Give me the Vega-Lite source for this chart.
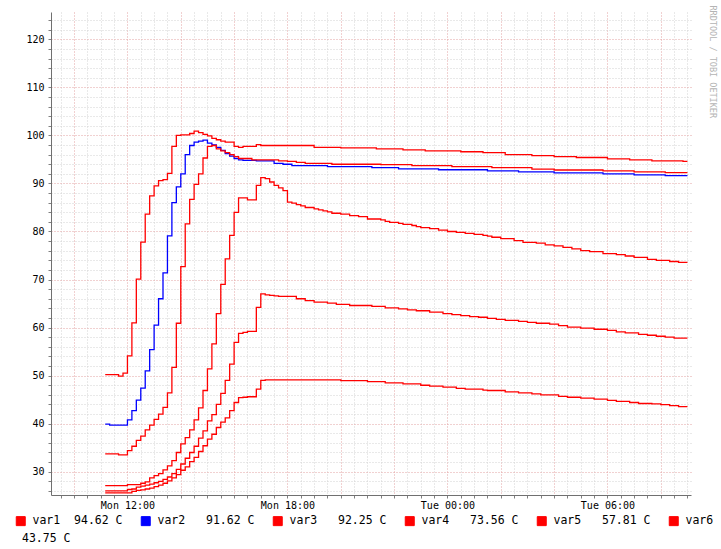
{
  "$schema": "https://vega.github.io/schema/vega-lite/v6.json",
  "width": 640,
  "height": 483,
  "autosize": {"type": "none"},
  "padding": {"left": 51, "top": 12, "right": 30, "bottom": 54},
  "background": "white",
  "config": {"view": {"stroke": null}, "font": "DejaVu Sans Mono"},
  "data": {
    "values": [
      {"s": "var1", "t": "2011-01-03T11:10:00Z", "v": 50.2},
      {"s": "var1", "t": "2011-01-03T11:40:00Z", "v": 49.9},
      {"s": "var1", "t": "2011-01-03T11:50:00Z", "v": 50.5},
      {"s": "var1", "t": "2011-01-03T12:00:00Z", "v": 54.1},
      {"s": "var1", "t": "2011-01-03T12:10:00Z", "v": 61.0},
      {"s": "var1", "t": "2011-01-03T12:20:00Z", "v": 70.1},
      {"s": "var1", "t": "2011-01-03T12:30:00Z", "v": 77.8},
      {"s": "var1", "t": "2011-01-03T12:40:00Z", "v": 83.6},
      {"s": "var1", "t": "2011-01-03T12:50:00Z", "v": 87.4},
      {"s": "var1", "t": "2011-01-03T13:00:00Z", "v": 89.5},
      {"s": "var1", "t": "2011-01-03T13:10:00Z", "v": 90.6},
      {"s": "var1", "t": "2011-01-03T13:20:00Z", "v": 90.8},
      {"s": "var1", "t": "2011-01-03T13:30:00Z", "v": 92.1},
      {"s": "var1", "t": "2011-01-03T13:40:00Z", "v": 97.7},
      {"s": "var1", "t": "2011-01-03T13:50:00Z", "v": 100.0},
      {"s": "var1", "t": "2011-01-03T14:00:00Z", "v": 100.1},
      {"s": "var1", "t": "2011-01-03T14:20:00Z", "v": 100.4},
      {"s": "var1", "t": "2011-01-03T14:30:00Z", "v": 100.9},
      {"s": "var1", "t": "2011-01-03T14:40:00Z", "v": 100.6},
      {"s": "var1", "t": "2011-01-03T14:50:00Z", "v": 100.2},
      {"s": "var1", "t": "2011-01-03T15:00:00Z", "v": 99.9},
      {"s": "var1", "t": "2011-01-03T15:10:00Z", "v": 99.4},
      {"s": "var1", "t": "2011-01-03T15:20:00Z", "v": 99.1},
      {"s": "var1", "t": "2011-01-03T15:30:00Z", "v": 98.8},
      {"s": "var1", "t": "2011-01-03T15:40:00Z", "v": 98.6},
      {"s": "var1", "t": "2011-01-03T16:00:00Z", "v": 97.7},
      {"s": "var1", "t": "2011-01-03T16:10:00Z", "v": 97.5},
      {"s": "var1", "t": "2011-01-03T16:20:00Z", "v": 97.7},
      {"s": "var1", "t": "2011-01-03T16:50:00Z", "v": 98.1},
      {"s": "var1", "t": "2011-01-03T17:00:00Z", "v": 97.9},
      {"s": "var1", "t": "2011-01-03T19:00:00Z", "v": 97.5},
      {"s": "var1", "t": "2011-01-03T20:00:00Z", "v": 97.4},
      {"s": "var1", "t": "2011-01-03T21:20:00Z", "v": 97.2},
      {"s": "var1", "t": "2011-01-03T22:20:00Z", "v": 97.0},
      {"s": "var1", "t": "2011-01-03T23:10:00Z", "v": 96.8},
      {"s": "var1", "t": "2011-01-04T00:30:00Z", "v": 96.6},
      {"s": "var1", "t": "2011-01-04T01:20:00Z", "v": 96.4},
      {"s": "var1", "t": "2011-01-04T02:10:00Z", "v": 96.0},
      {"s": "var1", "t": "2011-01-04T03:10:00Z", "v": 95.8},
      {"s": "var1", "t": "2011-01-04T04:00:00Z", "v": 95.6},
      {"s": "var1", "t": "2011-01-04T04:50:00Z", "v": 95.4},
      {"s": "var1", "t": "2011-01-04T06:00:00Z", "v": 95.1},
      {"s": "var1", "t": "2011-01-04T06:50:00Z", "v": 94.9},
      {"s": "var1", "t": "2011-01-04T07:40:00Z", "v": 94.7},
      {"s": "var1", "t": "2011-01-04T08:50:00Z", "v": 94.6},
      {"s": "var1", "t": "2011-01-04T09:00:00Z", "v": 94.6},
      {"s": "var2", "t": "2011-01-03T11:10:00Z", "v": 39.9},
      {"s": "var2", "t": "2011-01-03T11:20:00Z", "v": 39.7},
      {"s": "var2", "t": "2011-01-03T12:00:00Z", "v": 40.8},
      {"s": "var2", "t": "2011-01-03T12:10:00Z", "v": 42.7},
      {"s": "var2", "t": "2011-01-03T12:20:00Z", "v": 44.9},
      {"s": "var2", "t": "2011-01-03T12:30:00Z", "v": 47.4},
      {"s": "var2", "t": "2011-01-03T12:40:00Z", "v": 51.0},
      {"s": "var2", "t": "2011-01-03T12:50:00Z", "v": 55.4},
      {"s": "var2", "t": "2011-01-03T13:00:00Z", "v": 60.5},
      {"s": "var2", "t": "2011-01-03T13:10:00Z", "v": 66.0},
      {"s": "var2", "t": "2011-01-03T13:20:00Z", "v": 71.4},
      {"s": "var2", "t": "2011-01-03T13:30:00Z", "v": 79.1},
      {"s": "var2", "t": "2011-01-03T13:40:00Z", "v": 86.0},
      {"s": "var2", "t": "2011-01-03T13:50:00Z", "v": 89.3},
      {"s": "var2", "t": "2011-01-03T14:00:00Z", "v": 92.0},
      {"s": "var2", "t": "2011-01-03T14:10:00Z", "v": 96.0},
      {"s": "var2", "t": "2011-01-03T14:20:00Z", "v": 97.9},
      {"s": "var2", "t": "2011-01-03T14:30:00Z", "v": 98.6},
      {"s": "var2", "t": "2011-01-03T14:40:00Z", "v": 98.8},
      {"s": "var2", "t": "2011-01-03T14:50:00Z", "v": 99.0},
      {"s": "var2", "t": "2011-01-03T15:00:00Z", "v": 98.4},
      {"s": "var2", "t": "2011-01-03T15:10:00Z", "v": 98.0},
      {"s": "var2", "t": "2011-01-03T15:20:00Z", "v": 97.5},
      {"s": "var2", "t": "2011-01-03T15:30:00Z", "v": 96.9},
      {"s": "var2", "t": "2011-01-03T15:40:00Z", "v": 96.2},
      {"s": "var2", "t": "2011-01-03T15:50:00Z", "v": 95.7},
      {"s": "var2", "t": "2011-01-03T16:00:00Z", "v": 95.2},
      {"s": "var2", "t": "2011-01-03T16:10:00Z", "v": 94.9},
      {"s": "var2", "t": "2011-01-03T16:20:00Z", "v": 94.8},
      {"s": "var2", "t": "2011-01-03T16:50:00Z", "v": 94.7},
      {"s": "var2", "t": "2011-01-03T17:30:00Z", "v": 94.2},
      {"s": "var2", "t": "2011-01-03T17:50:00Z", "v": 94.0},
      {"s": "var2", "t": "2011-01-03T18:10:00Z", "v": 93.7},
      {"s": "var2", "t": "2011-01-03T19:30:00Z", "v": 93.5},
      {"s": "var2", "t": "2011-01-03T21:10:00Z", "v": 93.3},
      {"s": "var2", "t": "2011-01-03T22:10:00Z", "v": 93.05},
      {"s": "var2", "t": "2011-01-03T23:40:00Z", "v": 92.85},
      {"s": "var2", "t": "2011-01-04T01:30:00Z", "v": 92.6},
      {"s": "var2", "t": "2011-01-04T02:40:00Z", "v": 92.4},
      {"s": "var2", "t": "2011-01-04T04:00:00Z", "v": 92.2},
      {"s": "var2", "t": "2011-01-04T05:50:00Z", "v": 92.0},
      {"s": "var2", "t": "2011-01-04T07:00:00Z", "v": 91.8},
      {"s": "var2", "t": "2011-01-04T08:10:00Z", "v": 91.62},
      {"s": "var2", "t": "2011-01-04T09:00:00Z", "v": 91.62},
      {"s": "var3", "t": "2011-01-03T11:10:00Z", "v": 33.7},
      {"s": "var3", "t": "2011-01-03T11:40:00Z", "v": 33.5},
      {"s": "var3", "t": "2011-01-03T12:00:00Z", "v": 34.4},
      {"s": "var3", "t": "2011-01-03T12:10:00Z", "v": 35.3},
      {"s": "var3", "t": "2011-01-03T12:20:00Z", "v": 36.5},
      {"s": "var3", "t": "2011-01-03T12:30:00Z", "v": 37.4},
      {"s": "var3", "t": "2011-01-03T12:40:00Z", "v": 38.7},
      {"s": "var3", "t": "2011-01-03T12:50:00Z", "v": 39.7},
      {"s": "var3", "t": "2011-01-03T13:00:00Z", "v": 40.9},
      {"s": "var3", "t": "2011-01-03T13:10:00Z", "v": 42.0},
      {"s": "var3", "t": "2011-01-03T13:20:00Z", "v": 43.4},
      {"s": "var3", "t": "2011-01-03T13:30:00Z", "v": 46.4},
      {"s": "var3", "t": "2011-01-03T13:40:00Z", "v": 51.7},
      {"s": "var3", "t": "2011-01-03T13:50:00Z", "v": 60.9},
      {"s": "var3", "t": "2011-01-03T14:00:00Z", "v": 72.7},
      {"s": "var3", "t": "2011-01-03T14:10:00Z", "v": 81.6},
      {"s": "var3", "t": "2011-01-03T14:20:00Z", "v": 86.7},
      {"s": "var3", "t": "2011-01-03T14:30:00Z", "v": 89.8},
      {"s": "var3", "t": "2011-01-03T14:40:00Z", "v": 92.0},
      {"s": "var3", "t": "2011-01-03T14:50:00Z", "v": 95.3},
      {"s": "var3", "t": "2011-01-03T15:00:00Z", "v": 97.7},
      {"s": "var3", "t": "2011-01-03T15:10:00Z", "v": 97.9},
      {"s": "var3", "t": "2011-01-03T15:20:00Z", "v": 97.2},
      {"s": "var3", "t": "2011-01-03T15:30:00Z", "v": 96.8},
      {"s": "var3", "t": "2011-01-03T15:40:00Z", "v": 96.4},
      {"s": "var3", "t": "2011-01-03T15:50:00Z", "v": 96.0},
      {"s": "var3", "t": "2011-01-03T16:00:00Z", "v": 95.6},
      {"s": "var3", "t": "2011-01-03T16:10:00Z", "v": 95.2},
      {"s": "var3", "t": "2011-01-03T16:40:00Z", "v": 94.9},
      {"s": "var3", "t": "2011-01-03T17:40:00Z", "v": 94.7},
      {"s": "var3", "t": "2011-01-03T18:00:00Z", "v": 94.6},
      {"s": "var3", "t": "2011-01-03T18:20:00Z", "v": 94.4},
      {"s": "var3", "t": "2011-01-03T18:40:00Z", "v": 94.2},
      {"s": "var3", "t": "2011-01-03T19:40:00Z", "v": 94.0},
      {"s": "var3", "t": "2011-01-03T21:30:00Z", "v": 93.9},
      {"s": "var3", "t": "2011-01-03T22:40:00Z", "v": 93.7},
      {"s": "var3", "t": "2011-01-04T00:10:00Z", "v": 93.5},
      {"s": "var3", "t": "2011-01-04T01:40:00Z", "v": 93.3},
      {"s": "var3", "t": "2011-01-04T03:10:00Z", "v": 93.0},
      {"s": "var3", "t": "2011-01-04T04:00:00Z", "v": 92.8},
      {"s": "var3", "t": "2011-01-04T05:50:00Z", "v": 92.6},
      {"s": "var3", "t": "2011-01-04T07:00:00Z", "v": 92.4},
      {"s": "var3", "t": "2011-01-04T08:10:00Z", "v": 92.25},
      {"s": "var3", "t": "2011-01-04T09:00:00Z", "v": 92.25},
      {"s": "var4", "t": "2011-01-03T11:10:00Z", "v": 27.1},
      {"s": "var4", "t": "2011-01-03T12:00:00Z", "v": 27.3},
      {"s": "var4", "t": "2011-01-03T12:30:00Z", "v": 27.6},
      {"s": "var4", "t": "2011-01-03T12:40:00Z", "v": 27.9},
      {"s": "var4", "t": "2011-01-03T12:50:00Z", "v": 28.7},
      {"s": "var4", "t": "2011-01-03T13:00:00Z", "v": 29.2},
      {"s": "var4", "t": "2011-01-03T13:10:00Z", "v": 29.6},
      {"s": "var4", "t": "2011-01-03T13:20:00Z", "v": 30.4},
      {"s": "var4", "t": "2011-01-03T13:30:00Z", "v": 31.2},
      {"s": "var4", "t": "2011-01-03T13:40:00Z", "v": 32.3},
      {"s": "var4", "t": "2011-01-03T13:50:00Z", "v": 34.0},
      {"s": "var4", "t": "2011-01-03T14:00:00Z", "v": 35.8},
      {"s": "var4", "t": "2011-01-03T14:10:00Z", "v": 37.1},
      {"s": "var4", "t": "2011-01-03T14:20:00Z", "v": 38.7},
      {"s": "var4", "t": "2011-01-03T14:30:00Z", "v": 40.8},
      {"s": "var4", "t": "2011-01-03T14:40:00Z", "v": 43.3},
      {"s": "var4", "t": "2011-01-03T14:50:00Z", "v": 46.9},
      {"s": "var4", "t": "2011-01-03T15:00:00Z", "v": 51.4},
      {"s": "var4", "t": "2011-01-03T15:10:00Z", "v": 56.6},
      {"s": "var4", "t": "2011-01-03T15:20:00Z", "v": 62.9},
      {"s": "var4", "t": "2011-01-03T15:30:00Z", "v": 69.0},
      {"s": "var4", "t": "2011-01-03T15:40:00Z", "v": 74.3},
      {"s": "var4", "t": "2011-01-03T15:50:00Z", "v": 79.2},
      {"s": "var4", "t": "2011-01-03T16:00:00Z", "v": 84.0},
      {"s": "var4", "t": "2011-01-03T16:10:00Z", "v": 87.0},
      {"s": "var4", "t": "2011-01-03T16:30:00Z", "v": 86.6},
      {"s": "var4", "t": "2011-01-03T16:50:00Z", "v": 89.6},
      {"s": "var4", "t": "2011-01-03T17:00:00Z", "v": 91.2},
      {"s": "var4", "t": "2011-01-03T17:10:00Z", "v": 91.0},
      {"s": "var4", "t": "2011-01-03T17:20:00Z", "v": 90.3},
      {"s": "var4", "t": "2011-01-03T17:30:00Z", "v": 89.6},
      {"s": "var4", "t": "2011-01-03T17:40:00Z", "v": 89.1},
      {"s": "var4", "t": "2011-01-03T17:50:00Z", "v": 88.5},
      {"s": "var4", "t": "2011-01-03T18:00:00Z", "v": 86.1},
      {"s": "var4", "t": "2011-01-03T18:10:00Z", "v": 85.9},
      {"s": "var4", "t": "2011-01-03T18:20:00Z", "v": 85.6},
      {"s": "var4", "t": "2011-01-03T18:30:00Z", "v": 85.35},
      {"s": "var4", "t": "2011-01-03T18:40:00Z", "v": 85.0},
      {"s": "var4", "t": "2011-01-03T19:00:00Z", "v": 84.7},
      {"s": "var4", "t": "2011-01-03T19:10:00Z", "v": 84.5},
      {"s": "var4", "t": "2011-01-03T19:20:00Z", "v": 84.3},
      {"s": "var4", "t": "2011-01-03T19:30:00Z", "v": 84.1},
      {"s": "var4", "t": "2011-01-03T19:40:00Z", "v": 83.8},
      {"s": "var4", "t": "2011-01-03T20:00:00Z", "v": 83.6},
      {"s": "var4", "t": "2011-01-03T20:20:00Z", "v": 83.3},
      {"s": "var4", "t": "2011-01-03T20:40:00Z", "v": 83.1},
      {"s": "var4", "t": "2011-01-03T21:00:00Z", "v": 82.6},
      {"s": "var4", "t": "2011-01-03T21:30:00Z", "v": 82.4},
      {"s": "var4", "t": "2011-01-03T21:40:00Z", "v": 82.1},
      {"s": "var4", "t": "2011-01-03T21:50:00Z", "v": 81.9},
      {"s": "var4", "t": "2011-01-03T22:10:00Z", "v": 81.7},
      {"s": "var4", "t": "2011-01-03T22:20:00Z", "v": 81.5},
      {"s": "var4", "t": "2011-01-03T22:40:00Z", "v": 81.25},
      {"s": "var4", "t": "2011-01-03T22:50:00Z", "v": 81.0},
      {"s": "var4", "t": "2011-01-03T23:00:00Z", "v": 80.8},
      {"s": "var4", "t": "2011-01-03T23:20:00Z", "v": 80.6},
      {"s": "var4", "t": "2011-01-03T23:40:00Z", "v": 80.3},
      {"s": "var4", "t": "2011-01-04T00:00:00Z", "v": 80.0},
      {"s": "var4", "t": "2011-01-04T00:20:00Z", "v": 79.8},
      {"s": "var4", "t": "2011-01-04T00:40:00Z", "v": 79.6},
      {"s": "var4", "t": "2011-01-04T01:00:00Z", "v": 79.4},
      {"s": "var4", "t": "2011-01-04T01:20:00Z", "v": 79.2},
      {"s": "var4", "t": "2011-01-04T01:30:00Z", "v": 79.05},
      {"s": "var4", "t": "2011-01-04T01:40:00Z", "v": 78.8},
      {"s": "var4", "t": "2011-01-04T02:00:00Z", "v": 78.5},
      {"s": "var4", "t": "2011-01-04T02:30:00Z", "v": 78.1},
      {"s": "var4", "t": "2011-01-04T02:50:00Z", "v": 77.75},
      {"s": "var4", "t": "2011-01-04T03:20:00Z", "v": 77.6},
      {"s": "var4", "t": "2011-01-04T03:40:00Z", "v": 77.2},
      {"s": "var4", "t": "2011-01-04T04:00:00Z", "v": 77.0},
      {"s": "var4", "t": "2011-01-04T04:20:00Z", "v": 76.7},
      {"s": "var4", "t": "2011-01-04T04:40:00Z", "v": 76.4},
      {"s": "var4", "t": "2011-01-04T05:00:00Z", "v": 76.0},
      {"s": "var4", "t": "2011-01-04T05:20:00Z", "v": 75.8},
      {"s": "var4", "t": "2011-01-04T05:50:00Z", "v": 75.4},
      {"s": "var4", "t": "2011-01-04T06:20:00Z", "v": 75.2},
      {"s": "var4", "t": "2011-01-04T06:40:00Z", "v": 74.9},
      {"s": "var4", "t": "2011-01-04T07:00:00Z", "v": 74.6},
      {"s": "var4", "t": "2011-01-04T07:30:00Z", "v": 74.2},
      {"s": "var4", "t": "2011-01-04T07:50:00Z", "v": 74.0},
      {"s": "var4", "t": "2011-01-04T08:20:00Z", "v": 73.75},
      {"s": "var4", "t": "2011-01-04T08:40:00Z", "v": 73.56},
      {"s": "var4", "t": "2011-01-04T09:00:00Z", "v": 73.56},
      {"s": "var5", "t": "2011-01-03T11:10:00Z", "v": 26.0},
      {"s": "var5", "t": "2011-01-03T12:00:00Z", "v": 26.3},
      {"s": "var5", "t": "2011-01-03T12:10:00Z", "v": 26.4},
      {"s": "var5", "t": "2011-01-03T12:20:00Z", "v": 26.8},
      {"s": "var5", "t": "2011-01-03T12:30:00Z", "v": 27.0},
      {"s": "var5", "t": "2011-01-03T12:40:00Z", "v": 27.2},
      {"s": "var5", "t": "2011-01-03T12:50:00Z", "v": 27.4},
      {"s": "var5", "t": "2011-01-03T13:00:00Z", "v": 27.7},
      {"s": "var5", "t": "2011-01-03T13:10:00Z", "v": 28.0},
      {"s": "var5", "t": "2011-01-03T13:20:00Z", "v": 28.4},
      {"s": "var5", "t": "2011-01-03T13:30:00Z", "v": 28.9},
      {"s": "var5", "t": "2011-01-03T13:40:00Z", "v": 29.6},
      {"s": "var5", "t": "2011-01-03T13:50:00Z", "v": 30.5},
      {"s": "var5", "t": "2011-01-03T14:00:00Z", "v": 31.6},
      {"s": "var5", "t": "2011-01-03T14:10:00Z", "v": 32.8},
      {"s": "var5", "t": "2011-01-03T14:20:00Z", "v": 34.0},
      {"s": "var5", "t": "2011-01-03T14:30:00Z", "v": 35.3},
      {"s": "var5", "t": "2011-01-03T14:40:00Z", "v": 37.0},
      {"s": "var5", "t": "2011-01-03T14:50:00Z", "v": 38.5},
      {"s": "var5", "t": "2011-01-03T15:00:00Z", "v": 40.6},
      {"s": "var5", "t": "2011-01-03T15:10:00Z", "v": 41.9},
      {"s": "var5", "t": "2011-01-03T15:20:00Z", "v": 44.0},
      {"s": "var5", "t": "2011-01-03T15:30:00Z", "v": 46.3},
      {"s": "var5", "t": "2011-01-03T15:40:00Z", "v": 49.0},
      {"s": "var5", "t": "2011-01-03T15:50:00Z", "v": 52.4},
      {"s": "var5", "t": "2011-01-03T16:00:00Z", "v": 56.9},
      {"s": "var5", "t": "2011-01-03T16:10:00Z", "v": 58.8},
      {"s": "var5", "t": "2011-01-03T16:20:00Z", "v": 59.0},
      {"s": "var5", "t": "2011-01-03T16:30:00Z", "v": 59.2},
      {"s": "var5", "t": "2011-01-03T16:50:00Z", "v": 64.2},
      {"s": "var5", "t": "2011-01-03T17:00:00Z", "v": 67.0},
      {"s": "var5", "t": "2011-01-03T17:10:00Z", "v": 66.8},
      {"s": "var5", "t": "2011-01-03T17:20:00Z", "v": 66.7},
      {"s": "var5", "t": "2011-01-03T17:30:00Z", "v": 66.6},
      {"s": "var5", "t": "2011-01-03T17:40:00Z", "v": 66.5},
      {"s": "var5", "t": "2011-01-03T18:20:00Z", "v": 66.0},
      {"s": "var5", "t": "2011-01-03T18:40:00Z", "v": 65.6},
      {"s": "var5", "t": "2011-01-03T19:00:00Z", "v": 65.3},
      {"s": "var5", "t": "2011-01-03T19:30:00Z", "v": 65.1},
      {"s": "var5", "t": "2011-01-03T19:50:00Z", "v": 64.85},
      {"s": "var5", "t": "2011-01-03T20:20:00Z", "v": 64.6},
      {"s": "var5", "t": "2011-01-03T21:10:00Z", "v": 64.4},
      {"s": "var5", "t": "2011-01-03T21:40:00Z", "v": 64.1},
      {"s": "var5", "t": "2011-01-03T22:10:00Z", "v": 63.9},
      {"s": "var5", "t": "2011-01-03T22:30:00Z", "v": 63.7},
      {"s": "var5", "t": "2011-01-03T22:50:00Z", "v": 63.5},
      {"s": "var5", "t": "2011-01-03T23:20:00Z", "v": 63.2},
      {"s": "var5", "t": "2011-01-03T23:50:00Z", "v": 62.9},
      {"s": "var5", "t": "2011-01-04T00:10:00Z", "v": 62.7},
      {"s": "var5", "t": "2011-01-04T00:30:00Z", "v": 62.5},
      {"s": "var5", "t": "2011-01-04T00:50:00Z", "v": 62.3},
      {"s": "var5", "t": "2011-01-04T01:10:00Z", "v": 62.15},
      {"s": "var5", "t": "2011-01-04T01:30:00Z", "v": 61.9},
      {"s": "var5", "t": "2011-01-04T01:50:00Z", "v": 61.7},
      {"s": "var5", "t": "2011-01-04T02:10:00Z", "v": 61.5},
      {"s": "var5", "t": "2011-01-04T02:40:00Z", "v": 61.3},
      {"s": "var5", "t": "2011-01-04T03:00:00Z", "v": 61.1},
      {"s": "var5", "t": "2011-01-04T03:20:00Z", "v": 60.9},
      {"s": "var5", "t": "2011-01-04T03:50:00Z", "v": 60.7},
      {"s": "var5", "t": "2011-01-04T04:10:00Z", "v": 60.4},
      {"s": "var5", "t": "2011-01-04T04:30:00Z", "v": 60.1},
      {"s": "var5", "t": "2011-01-04T05:00:00Z", "v": 59.9},
      {"s": "var5", "t": "2011-01-04T05:30:00Z", "v": 59.65},
      {"s": "var5", "t": "2011-01-04T06:00:00Z", "v": 59.4},
      {"s": "var5", "t": "2011-01-04T06:20:00Z", "v": 59.1},
      {"s": "var5", "t": "2011-01-04T06:40:00Z", "v": 58.9},
      {"s": "var5", "t": "2011-01-04T07:10:00Z", "v": 58.6},
      {"s": "var5", "t": "2011-01-04T07:30:00Z", "v": 58.4},
      {"s": "var5", "t": "2011-01-04T07:50:00Z", "v": 58.2},
      {"s": "var5", "t": "2011-01-04T08:10:00Z", "v": 58.0},
      {"s": "var5", "t": "2011-01-04T08:30:00Z", "v": 57.81},
      {"s": "var5", "t": "2011-01-04T09:00:00Z", "v": 57.81},
      {"s": "var6", "t": "2011-01-03T11:10:00Z", "v": 25.6},
      {"s": "var6", "t": "2011-01-03T12:10:00Z", "v": 25.9},
      {"s": "var6", "t": "2011-01-03T12:20:00Z", "v": 26.1},
      {"s": "var6", "t": "2011-01-03T12:30:00Z", "v": 26.2},
      {"s": "var6", "t": "2011-01-03T12:40:00Z", "v": 26.4},
      {"s": "var6", "t": "2011-01-03T12:50:00Z", "v": 26.6},
      {"s": "var6", "t": "2011-01-03T13:00:00Z", "v": 26.9},
      {"s": "var6", "t": "2011-01-03T13:10:00Z", "v": 27.2},
      {"s": "var6", "t": "2011-01-03T13:20:00Z", "v": 27.6},
      {"s": "var6", "t": "2011-01-03T13:30:00Z", "v": 28.1},
      {"s": "var6", "t": "2011-01-03T13:40:00Z", "v": 28.7},
      {"s": "var6", "t": "2011-01-03T13:50:00Z", "v": 29.4},
      {"s": "var6", "t": "2011-01-03T14:00:00Z", "v": 30.3},
      {"s": "var6", "t": "2011-01-03T14:10:00Z", "v": 31.0},
      {"s": "var6", "t": "2011-01-03T14:20:00Z", "v": 32.1},
      {"s": "var6", "t": "2011-01-03T14:30:00Z", "v": 33.0},
      {"s": "var6", "t": "2011-01-03T14:40:00Z", "v": 34.2},
      {"s": "var6", "t": "2011-01-03T14:50:00Z", "v": 35.4},
      {"s": "var6", "t": "2011-01-03T15:00:00Z", "v": 36.8},
      {"s": "var6", "t": "2011-01-03T15:10:00Z", "v": 37.8},
      {"s": "var6", "t": "2011-01-03T15:20:00Z", "v": 39.2},
      {"s": "var6", "t": "2011-01-03T15:30:00Z", "v": 40.3},
      {"s": "var6", "t": "2011-01-03T15:40:00Z", "v": 41.2},
      {"s": "var6", "t": "2011-01-03T15:50:00Z", "v": 42.7},
      {"s": "var6", "t": "2011-01-03T16:00:00Z", "v": 44.4},
      {"s": "var6", "t": "2011-01-03T16:10:00Z", "v": 45.4},
      {"s": "var6", "t": "2011-01-03T16:20:00Z", "v": 45.5},
      {"s": "var6", "t": "2011-01-03T16:30:00Z", "v": 45.6},
      {"s": "var6", "t": "2011-01-03T16:50:00Z", "v": 47.2},
      {"s": "var6", "t": "2011-01-03T17:00:00Z", "v": 49.0},
      {"s": "var6", "t": "2011-01-03T17:10:00Z", "v": 49.1},
      {"s": "var6", "t": "2011-01-03T20:00:00Z", "v": 48.96},
      {"s": "var6", "t": "2011-01-03T21:00:00Z", "v": 48.75},
      {"s": "var6", "t": "2011-01-03T21:40:00Z", "v": 48.5},
      {"s": "var6", "t": "2011-01-03T22:20:00Z", "v": 48.3},
      {"s": "var6", "t": "2011-01-03T23:00:00Z", "v": 48.0},
      {"s": "var6", "t": "2011-01-03T23:20:00Z", "v": 47.8},
      {"s": "var6", "t": "2011-01-03T23:50:00Z", "v": 47.6},
      {"s": "var6", "t": "2011-01-04T00:20:00Z", "v": 47.35},
      {"s": "var6", "t": "2011-01-04T00:40:00Z", "v": 47.2},
      {"s": "var6", "t": "2011-01-04T01:20:00Z", "v": 47.0},
      {"s": "var6", "t": "2011-01-04T01:30:00Z", "v": 46.9},
      {"s": "var6", "t": "2011-01-04T02:10:00Z", "v": 46.6},
      {"s": "var6", "t": "2011-01-04T02:40:00Z", "v": 46.4},
      {"s": "var6", "t": "2011-01-04T03:10:00Z", "v": 46.2},
      {"s": "var6", "t": "2011-01-04T03:30:00Z", "v": 46.0},
      {"s": "var6", "t": "2011-01-04T04:10:00Z", "v": 45.7},
      {"s": "var6", "t": "2011-01-04T04:30:00Z", "v": 45.5},
      {"s": "var6", "t": "2011-01-04T05:00:00Z", "v": 45.3},
      {"s": "var6", "t": "2011-01-04T05:30:00Z", "v": 45.1},
      {"s": "var6", "t": "2011-01-04T06:00:00Z", "v": 44.85},
      {"s": "var6", "t": "2011-01-04T06:20:00Z", "v": 44.65},
      {"s": "var6", "t": "2011-01-04T06:50:00Z", "v": 44.4},
      {"s": "var6", "t": "2011-01-04T07:10:00Z", "v": 44.2},
      {"s": "var6", "t": "2011-01-04T07:40:00Z", "v": 44.1},
      {"s": "var6", "t": "2011-01-04T08:00:00Z", "v": 43.95},
      {"s": "var6", "t": "2011-01-04T08:20:00Z", "v": 43.75},
      {"s": "var6", "t": "2011-01-04T08:40:00Z", "v": 43.55},
      {"s": "var6", "t": "2011-01-04T09:00:00Z", "v": 43.55}
    ]
  },
  "encoding": {
    "x": {
      "field": "t",
      "type": "temporal",
      "scale": {"type": "utc", "nice": false, "domain": [1294045680000, 1294132080000]},
      "axis": {
        "title": null,
        "tickCount": 48,
        "labelExpr": "utchours(datum.value) % 6 == 0 && utcminutes(datum.value) == 0 ? utcFormat(datum.value, '%a %H:%M') : ''",
        "labelOverlap": false,
        "labelFlush": false,
        "labelFont": "DejaVu Sans Mono",
        "labelFontSize": 10,
        "labelColor": "#000000",
        "labelPadding": 2,
        "tickSize": 3,
        "tickColor": "#808080",
        "domainColor": "#707070",
        "grid": true,
        "gridDash": [1, 2],
        "gridColor": {
          "condition": {"test": "utchours(datum.value) % 2 == 0 && utcminutes(datum.value) == 0", "value": "#e3a3a3"},
          "value": "#d2d2d2"
        }
      }
    },
    "color": {
      "field": "s",
      "type": "nominal",
      "scale": {
        "domain": ["var1", "var2", "var3", "var4", "var5", "var6"],
        "range": ["#ff0000", "#0000ff", "#ff0000", "#ff0000", "#ff0000", "#ff0000"]
      },
      "legend": {
        "orient": "none",
        "legendX": -36,
        "legendY": 503,
        "direction": "horizontal",
        "columns": 6,
        "columnPadding": 16,
        "padding": 0,
        "symbolType": "square",
        "symbolSize": 81,
        "symbolStrokeColor": "#000000",
        "symbolStrokeWidth": 1,
        "labelFont": "DejaVu Sans Mono",
        "labelFontSize": 11.5,
        "labelColor": "#000000",
        "labelOffset": 6,
        "labelLimit": 200,
        "labelExpr": "datum.label == 'var1' ? 'var1\u00a0\u00a094.62 C' : datum.label == 'var2' ? 'var2\u00a0\u00a0\u00a091.62 C' : datum.label == 'var3' ? 'var3\u00a0\u00a0\u00a092.25 C' : datum.label == 'var4' ? 'var4\u00a0\u00a0\u00a073.56 C' : datum.label == 'var5' ? 'var5\u00a0\u00a0\u00a057.81 C' : datum.label",
        "title": "43.75 C",
        "titleOrient": "bottom",
        "titleAnchor": "start",
        "titleFont": "DejaVu Sans Mono",
        "titleFontSize": 11.5,
        "titleFontWeight": "normal",
        "titleColor": "#000000",
        "titlePadding": 5,
        "encode": {
          "title": {
            "update": {
              "dx": {"value": 7}
            }
          },
          "symbols": {
            "update": {
              "fill": {"scale": "color", "field": "value"},
              "fillOpacity": {"value": 1},
              "stroke": {"value": "#000000"},
              "strokeWidth": {"value": 1}
            }
          }
        }
      }
    }
  },
  "layer": [
    {
      "transform": [{"filter": "datum.s == 'var1' || datum.s == 'var2'"}],
      "mark": {"type": "line", "interpolate": "step-after", "strokeWidth": 1.3},
      "encoding": {
        "y": {
          "field": "v",
          "type": "quantitative",
          "scale": {"domain": [25.15, 125.69], "nice": false, "zero": false},
          "axis": {
            "orient": "right",
            "labels": false,
            "ticks": false,
            "domain": false,
            "grid": false,
            "title": "RRDTOOL / TOBI OETIKER",
            "titleAngle": 90,
            "titleX": 21,
            "titleY": -7,
            "titleAlign": "left",
            "titleBaseline": "middle",
            "titleFont": "DejaVu Sans Mono",
            "titleFontSize": 8.5,
            "titleFontWeight": "normal",
            "titleColor": "#b4b4b4"
          }
        }
      }
    },
    {
      "transform": [{"filter": "datum.s != 'var1' && datum.s != 'var2'"}],
      "mark": {"type": "line", "interpolate": "step-after", "strokeWidth": 1.3},
      "encoding": {
        "y": {
          "field": "v",
          "type": "quantitative",
          "scale": {"domain": [25.15, 125.69], "nice": false, "zero": false},
          "axis": {
            "orient": "left",
            "title": null,
            "values": [26, 28, 30, 32, 34, 36, 38, 40, 42, 44, 46, 48, 50, 52, 54, 56, 58, 60, 62, 64, 66, 68, 70, 72, 74, 76, 78, 80, 82, 84, 86, 88, 90, 92, 94, 96, 98, 100, 102, 104, 106, 108, 110, 112, 114, 116, 118, 120, 122, 124],
            "labelExpr": "datum.value % 10 == 0 ? datum.label : ''",
            "labelOverlap": false,
            "labelFlush": false,
            "labelFont": "DejaVu Sans Mono",
            "labelFontSize": 10,
            "labelColor": "#000000",
            "labelPadding": 4,
            "tickSize": 3,
            "tickColor": "#808080",
            "domainColor": "#707070",
            "grid": true,
            "gridDash": [1, 2],
            "gridColor": {
              "condition": {"test": "datum.value % 10 == 0", "value": "#e3a3a3"},
              "value": "#d2d2d2"
            }
          }
        }
      }
    }
  ],
  "resolve": {"axis": {"y": "independent"}}
}
